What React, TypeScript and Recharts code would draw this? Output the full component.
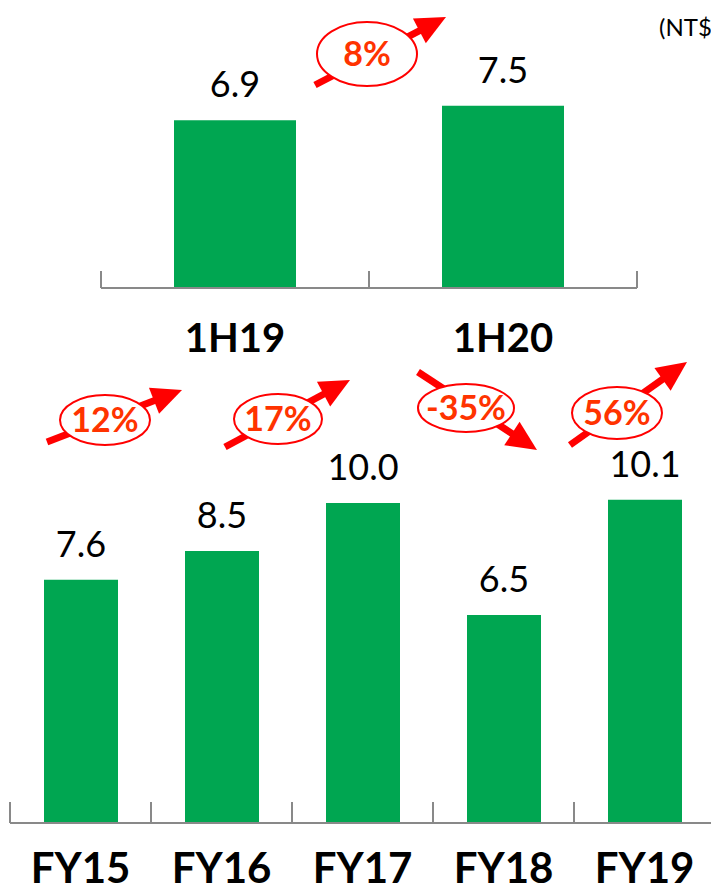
import React from 'react';
import { BarChart, Bar, XAxis, YAxis, LabelList } from 'recharts';

// ---- data ----
const topCategories = ['1H19', '1H20'];
const topValues = [6.9, 7.5];
const fyCategories = ['FY15', 'FY16', 'FY17', 'FY18', 'FY19'];
const fyValues = [7.6, 8.5, 10.0, 6.5, 10.1];
const topGrowth = ['8%'];
const fyGrowth = ['12%', '17%', '-35%', '56%'];
const unitLabel = '(NT$ bn)';

const topData = topCategories.map((name, i) => ({ name, value: topValues[i] }));
const fyData = fyCategories.map((name, i) => ({ name, value: fyValues[i] }));

// ---- layout / style ----
const GREEN = '#00A651';
const AXIS = '#898989';
const RED = '#FF0000';
const ORANGE = '#FF3300';
const FONT = 'Lato, "Open Sans", sans-serif';

const topLayout = { width: 711, height: 360, margin: { top: 45, right: 74, bottom: 0, left: 101 }, axisH: 72 };
const fyLayout = { width: 720, height: 493, margin: { top: 39, right: 5, bottom: 0, left: 10 }, axisH: 70 };

const topAnno = [{ cx: 367, cy: 54, rx: 50, ry: 32, tail: [315, 85], tip: [446, 17] }];
const fyAnno = [
  { cx: 105, cy: 420, rx: 45, ry: 25, tail: [47, 442], tip: [182, 390] },
  { cx: 278, cy: 419, rx: 44, ry: 25, tail: [225, 447], tip: [350, 380] },
  { cx: 466, cy: 408, rx: 48, ry: 24, tail: [418, 372], tip: [537, 450] },
  { cx: 617, cy: 413, rx: 45, ry: 26, tail: [570, 445], tip: [687, 362] },
];

const makeTick = (band: number, count: number, tickLen: number, dy: number, fontSize: number) =>
  (props: any) => {
    const { x, y, payload, index } = props;
    return (
      <g>
        <line x1={x - band / 2} x2={x - band / 2} y1={y} y2={y - tickLen} stroke={AXIS} strokeWidth={2} />
        {index === count - 1 && (
          <line x1={x + band / 2} x2={x + band / 2} y1={y} y2={y - tickLen} stroke={AXIS} strokeWidth={2} />
        )}
        <text x={x} y={y + dy} textAnchor="middle" fontFamily={FONT} fontWeight="bold" fontSize={fontSize} fill="#000">
          {payload.value}
        </text>
      </g>
    );
  };

const valueLabel = (props: any) => {
  const { x, y, width, value } = props;
  return (
    <text x={x + width / 2} y={y - 23} textAnchor="middle" fontFamily={FONT} fontSize={36} fill="#000">
      {Number(value).toFixed(1)}
    </text>
  );
};

const Badge = ({ label, cx, cy, rx, ry, tail, tip }: any) => {
  const dx = tip[0] - tail[0];
  const dy = tip[1] - tail[1];
  const len = Math.sqrt(dx * dx + dy * dy);
  const ux = dx / len;
  const uy = dy / len;
  const hl = 30;
  const hw = 14;
  const bx = tip[0] - ux * hl;
  const by = tip[1] - uy * hl;
  const nx = -uy;
  const ny = ux;
  return (
    <g>
      <line x1={tail[0]} y1={tail[1]} x2={bx + ux * 2} y2={by + uy * 2} stroke={RED} strokeWidth={7} />
      <polygon points={`${tip[0]},${tip[1]} ${bx + nx * hw},${by + ny * hw} ${bx - nx * hw},${by - ny * hw}`} fill={RED} />
      <ellipse cx={cx} cy={cy} rx={rx} ry={ry} fill="#fff" stroke={RED} strokeWidth={2} />
      <text x={cx} y={cy + 12} textAnchor="middle" fontFamily={FONT} fontWeight="bold" fontSize={34} fill={ORANGE}>
        {label}
      </text>
    </g>
  );
};

export default function App() {
  const topBand = (topLayout.width - topLayout.margin.left - topLayout.margin.right) / topData.length;
  const fyBand = (fyLayout.width - fyLayout.margin.left - fyLayout.margin.right) / fyData.length;
  return (
    <div style={{ position: 'absolute', left: 0, top: 0, width: 711, height: 893, overflow: 'hidden', background: '#fff' }}>
      <div style={{ position: 'absolute', left: 0, top: 0 }}>
        <BarChart width={topLayout.width} height={topLayout.height} data={topData} margin={topLayout.margin}>
          <YAxis hide domain={[0, 10]} />
          <XAxis
            dataKey="name"
            height={topLayout.axisH}
            axisLine={{ stroke: AXIS, strokeWidth: 2 }}
            tickLine={false}
            tickSize={0}
            tickMargin={0}
            interval={0}
            tick={makeTick(topBand, topData.length, 17, 64, 40)}
          />
          <Bar dataKey="value" fill={GREEN} barSize={122} isAnimationActive={false}>
            <LabelList dataKey="value" content={valueLabel} />
          </Bar>
        </BarChart>
      </div>
      <div style={{ position: 'absolute', left: 0, top: 400 }}>
        <BarChart width={fyLayout.width} height={fyLayout.height} data={fyData} margin={fyLayout.margin}>
          <YAxis hide domain={[0, 12]} />
          <XAxis
            dataKey="name"
            height={fyLayout.axisH}
            axisLine={{ stroke: AXIS, strokeWidth: 2 }}
            tickLine={false}
            tickSize={0}
            tickMargin={0}
            interval={0}
            tick={makeTick(fyBand, fyData.length, 21, 60, 42)}
          />
          <Bar dataKey="value" fill={GREEN} barSize={74} isAnimationActive={false}>
            <LabelList dataKey="value" content={valueLabel} />
          </Bar>
        </BarChart>
      </div>
      <svg width={711} height={893} style={{ position: 'absolute', left: 0, top: 0, pointerEvents: 'none' }}>
        <text x={659} y={36} fontFamily={FONT} fontSize={24} fill="#000">{unitLabel}</text>
        {topGrowth.map((g, i) => (
          <Badge key={'t' + i} label={g} {...topAnno[i]} />
        ))}
        {fyGrowth.map((g, i) => (
          <Badge key={'f' + i} label={g} {...fyAnno[i]} />
        ))}
      </svg>
    </div>
  );
}
